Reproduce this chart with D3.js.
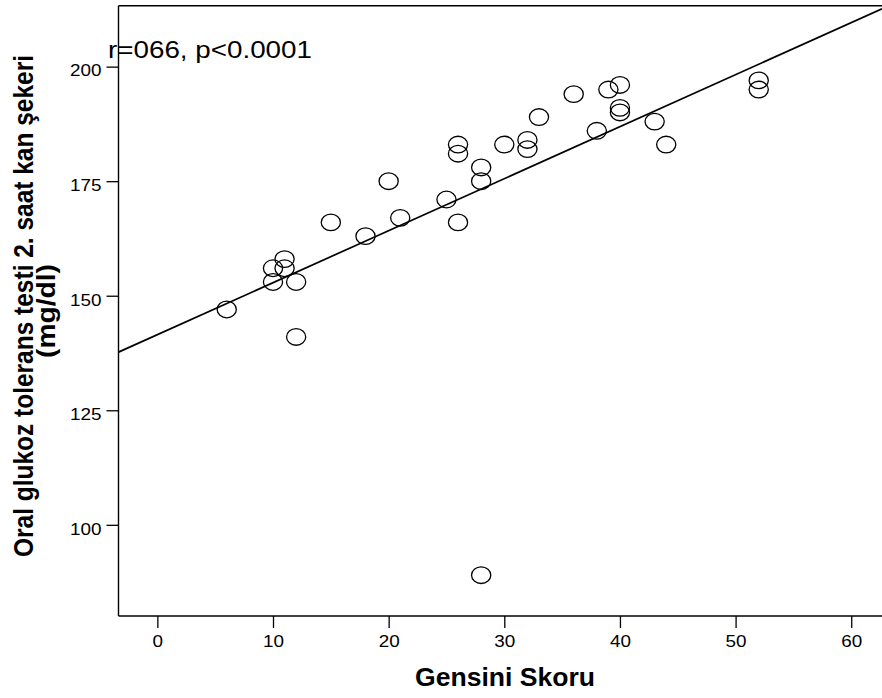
<!DOCTYPE html>
<html>
<head>
<meta charset="utf-8">
<script src="https://cdn.jsdelivr.net/npm/d3@7"></script>
<style>
  body { margin: 0; background: #fff; }
  text { font-family: Arial, "Liberation Sans", Helvetica, sans-serif; fill: #000; }
</style>
</head>
<body>
<div id="chart"></div>
<script>
// Data
var gensini = [6, 10, 10, 11, 11, 12, 12, 15, 18, 20, 21, 25, 26, 26, 26, 28, 28, 28,
               30, 32, 32, 33, 36, 38, 39, 40, 40, 40, 43, 44, 52, 52];
var ogtt    = [147, 156, 153, 158, 156, 153, 141, 166, 163, 175, 167, 171, 183, 181, 166, 178, 175, 89,
               183, 184, 182, 189, 194, 186, 195, 196, 191, 190, 188, 183, 197, 195];
var xTicks = [0, 10, 20, 30, 40, 50, 60];
var yTicks = [100, 125, 150, 175, 200];
// fit line as drawn
var fitIntercept = 141.5;
var fitSlope = 1.135;

var svgWidth = 882;
var svgHeight = 698;

var plot = { left: 118.5, right: 882, top: 5.7, bottom: 616 };

var svg = d3.select("#chart")
  .append("svg")
  .attr("width", svgWidth)
  .attr("height", svgHeight);

var xScale = d3.scaleLinear()
  .domain([-3.36, 62.66])
  .range([plot.left, plot.right]);

var yScale = d3.scaleLinear()
  .domain([80.1, 213.3])
  .range([plot.bottom, plot.top]);

// axes
var bottomAxis = d3.axisBottom(xScale).tickValues(xTicks).tickSize(12).tickSizeOuter(0);
var leftAxis = d3.axisLeft(yScale).tickValues(yTicks).tickSize(12).tickSizeOuter(0).tickPadding(5);

var xg = svg.append("g")
  .attr("transform", `translate(0, ${plot.bottom})`)
  .call(bottomAxis);
xg.select(".domain").remove();
xg.selectAll("line").attr("stroke", "#000").attr("stroke-width", 1.3);
xg.selectAll("text")
  .attr("y", 31).attr("dy", 0)
  .style("font-size", "16.5px")
  .attr("textLength", d => String(d).length * 10.5)
  .attr("lengthAdjust", "spacingAndGlyphs");

var yg = svg.append("g")
  .attr("transform", `translate(${plot.left}, 0)`)
  .call(leftAxis);
yg.select(".domain").remove();
yg.selectAll("line").attr("stroke", "#000").attr("stroke-width", 1.3);
yg.selectAll("text")
  .attr("dy", 9.3)
  .style("font-size", "16.5px")
  .attr("textLength", d => String(d).length * 10.5)
  .attr("lengthAdjust", "spacingAndGlyphs");

// frame
var frame = svg.append("g").attr("stroke", "#000").attr("stroke-width", 1.4);
frame.append("line").attr("x1", plot.left).attr("x2", plot.left).attr("y1", plot.top).attr("y2", plot.bottom);
frame.append("line").attr("x1", plot.left).attr("x2", plot.right).attr("y1", plot.top).attr("y2", plot.top);
frame.append("line").attr("x1", plot.left).attr("x2", plot.right).attr("y1", plot.bottom).attr("y2", plot.bottom);

// regression line
var xd = xScale.domain();
svg.append("line")
  .attr("x1", xScale(xd[0])).attr("y1", yScale(fitIntercept + fitSlope * xd[0]))
  .attr("x2", xScale(xd[1])).attr("y2", yScale(fitIntercept + fitSlope * xd[1]))
  .attr("stroke", "#000")
  .attr("stroke-width", 1.7);

// points
svg.append("g").selectAll("ellipse")
  .data(gensini)
  .enter()
  .append("ellipse")
  .attr("cx", d => xScale(d))
  .attr("cy", (d, i) => yScale(ogtt[i]))
  .attr("rx", 9.6)
  .attr("ry", 8.3)
  .attr("fill", "none")
  .attr("stroke", "#000")
  .attr("stroke-width", 1.3);

// annotation
svg.append("text")
  .attr("x", 108)
  .attr("y", 58.3)
  .style("font-size", "23px")
  .attr("textLength", 204)
  .attr("lengthAdjust", "spacingAndGlyphs")
  .text("r=066, p<0.0001");

// axis titles
svg.append("text")
  .attr("x", 505)
  .attr("y", 686)
  .attr("text-anchor", "middle")
  .style("font-size", "25.5px")
  .style("font-weight", "bold")
  .attr("textLength", 180)
  .attr("lengthAdjust", "spacingAndGlyphs")
  .text("Gensini Skoru");

var yTitle = svg.append("g")
  .attr("transform", "translate(0, 306) rotate(-90)");
yTitle.append("text")
  .attr("x", 0)
  .attr("y", 33)
  .attr("text-anchor", "middle")
  .style("font-size", "27px")
  .style("font-weight", "bold")
  .attr("textLength", 502)
  .attr("lengthAdjust", "spacingAndGlyphs")
  .text("Oral glukoz tolerans testi 2. saat kan şekeri");
yTitle.append("text")
  .attr("x", -5)
  .attr("y", 55)
  .attr("text-anchor", "middle")
  .style("font-size", "26px")
  .style("font-weight", "bold")
  .attr("textLength", 94)
  .attr("lengthAdjust", "spacingAndGlyphs")
  .text("(mg/dl)");
</script>
</body>
</html>
